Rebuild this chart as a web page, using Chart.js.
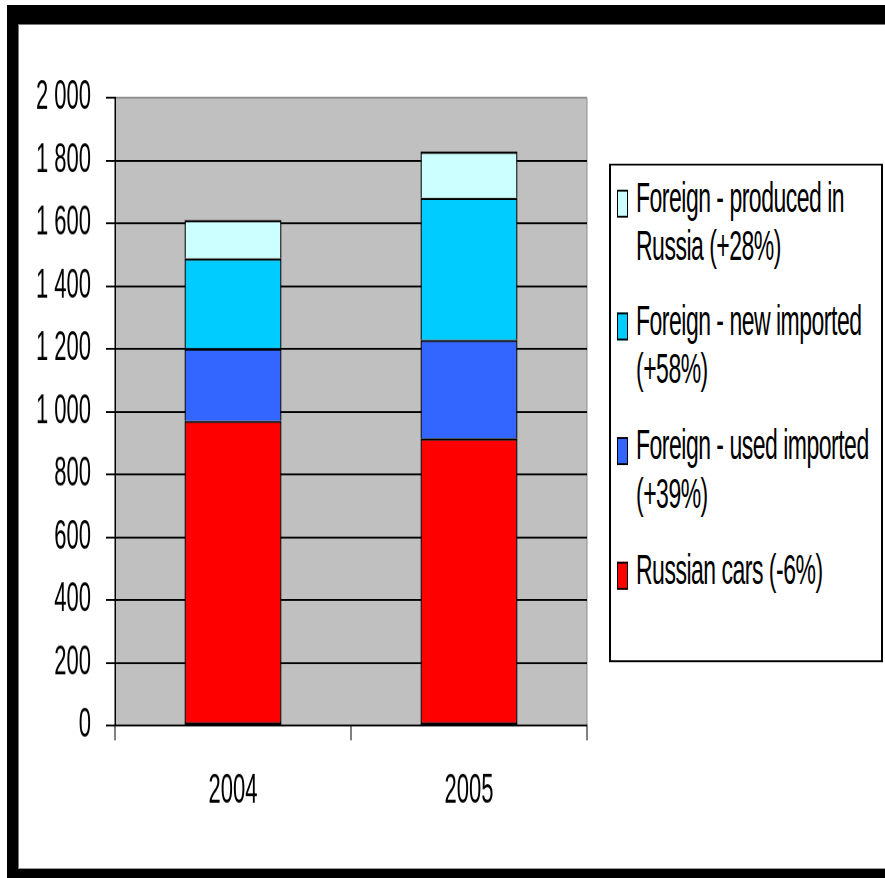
<!DOCTYPE html>
<html>
<head>
<meta charset="utf-8">
<script src="https://cdn.jsdelivr.net/npm/chart.js@4"></script>
<style>
  html, body { margin: 0; padding: 0; background: #fff; }
  body { width: 885px; height: 878px; position: relative; overflow: hidden; }
  .frame { position: absolute; left: 7px; top: 5px; right: 0; bottom: 0; background: #000; }
  .inner { position: absolute; left: 11px; top: 19px; right: 0; height: 845px; background: #fff;
           box-sizing: border-box; border-top: 1px solid #777; border-left: 1px solid #777; border-bottom: 1px solid #999; }
  /* the original picture is stretched vertically, so the chart is drawn flat and stretched */
  #stage { position: absolute; left: 0; top: 0; width: 885px; height: 472px;
           transform: scaleY(1.8602); transform-origin: 0 0; }
  #chart { position: absolute; left: 0; top: 0; }
  #legend { position: absolute; left: 609px; top: 87.6px; width: 274px; height: 268.3px; box-sizing: border-box;
            border-style: solid; border-color: #000; border-width: 1px 2px; padding: 5.2px 0 0 6px; background: #fff;
            font-family: 'Liberation Sans', Arial, sans-serif; font-size: 23px; letter-spacing: -0.5px;
            line-height: 25.8px; color: #000; }
  #legend .item { display: flex; margin-bottom: 15px; }
  #legend .sw { flex: none; width: 11px; height: 15px; box-sizing: border-box; border: 1px solid #000;
                margin-top: 8.1px; margin-right: 8px; }
</style>
</head>
<body>
<div class="frame"><div class="inner"></div></div>
<div id="stage">
  <canvas id="chart" width="885" height="472"></canvas>
  <div id="legend"></div>
</div>
<script>
// data (thousands of cars)
const years = ['2004', '2005'];
const russianCars = [971, 915];
const usedImported = [231, 314];
const newImported = [287, 453];
const producedInRussia = [122, 147];

const seriesLabels = [
    ['Russian cars (-6%)'],
    ['Foreign - used imported', '(+39%)'],
    ['Foreign - new imported', '(+58%)'],
    ['Foreign - produced in', 'Russia (+28%)']
];
const seriesColors = ['#ff0000', '#3366ff', '#00ccff', '#ccffff'];

const yMin = 0;
const yMax = 2000;
const yStep = 200;

const tickFont = { family: "'Liberation Sans', Arial, sans-serif", size: 22 };

const plotBackground = {
    id: 'plotBackground',
    beforeDraw(chart) {
        const { ctx, chartArea: a } = chart;
        ctx.save();
        ctx.fillStyle = '#c0c0c0';
        ctx.fillRect(a.left, a.top, a.right - a.left, a.bottom - a.top);
        ctx.strokeStyle = '#8c8c8c';
        ctx.lineWidth = 1;
        ctx.beginPath();
        ctx.moveTo(a.right, a.top);
        ctx.lineTo(a.right, a.bottom);
        ctx.stroke();
        ctx.restore();
    }
};

function formatTick(v) {
    return v >= 1000 ? Math.floor(v / 1000) + ' ' + String(v % 1000).padStart(3, '0') : String(v);
}

const allSeries = [russianCars, usedImported, newImported, producedInRussia];

const chart = new Chart(document.getElementById('chart').getContext('2d'), {
    type: 'bar',
    data: {
        labels: years,
        datasets: allSeries.map((values, i) => ({
            label: seriesLabels[i].join(' '),
            data: values,
            backgroundColor: seriesColors[i],
            borderColor: '#000',
            borderWidth: 1.2,
            // one line between stacked pieces, not two
            borderSkipped: i === 0 ? false : 'start',
            categoryPercentage: 0.41,
            barPercentage: 1
        }))
    },
    options: {
        responsive: false,
        animation: false,
        devicePixelRatio: 2,
        layout: { padding: { top: 52.68, right: 298, bottom: 0, left: 0 } },
        plugins: {
            legend: { display: false },
            tooltip: { enabled: false }
        },
        scales: {
            x: {
                stacked: true,
                afterFit(scale) { scale.height = 82; },
                grid: { drawOnChartArea: false, color: '#000', tickLength: 8, lineWidth: 1 },
                border: { color: '#000', width: 1 },
                ticks: { color: '#000', font: tickFont, padding: 14 }
            },
            y: {
                stacked: true,
                min: yMin,
                max: yMax,
                afterFit(scale) { scale.width = 115; },
                grid: {
                    color: c => (c.tick && c.tick.value === yMax) ? '#8c8c8c' : '#000',
                    tickColor: '#000',
                    tickLength: 9,
                    lineWidth: 1
                },
                border: { color: '#000', width: 1.5 },
                ticks: {
                    stepSize: yStep,
                    color: '#000',
                    font: tickFont,
                    padding: 15,
                    callback: v => formatTick(v)
                }
            }
        }
    },
    plugins: [plotBackground]
});

// legend, top series first like the original
const legendEl = document.getElementById('legend');
for (let i = seriesLabels.length - 1; i >= 0; i--) {
    const item = document.createElement('div');
    item.className = 'item';
    const sw = document.createElement('span');
    sw.className = 'sw';
    sw.style.background = chart.data.datasets[i].backgroundColor;
    const txt = document.createElement('span');
    txt.innerHTML = seriesLabels[i].join('<br>');
    item.appendChild(sw);
    item.appendChild(txt);
    legendEl.appendChild(item);
}
</script>
</body>
</html>
